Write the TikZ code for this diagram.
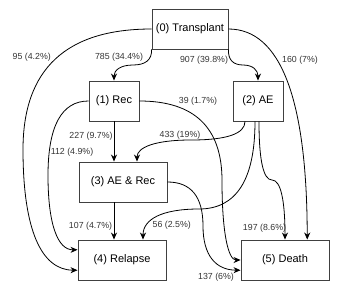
\documentclass[tikz,border=0pt]{standalone}
\usepackage{fontspec}
\setmainfont{Liberation Sans}
\usetikzlibrary{arrows.meta,calc}
\begin{document}
\begin{tikzpicture}[x=1pt,y=-1pt,
  box/.style={draw=black!75, fill=white, line width=0.9pt, minimum width=#1,
    minimum height=40pt, inner sep=0pt, font=\fontsize{11}{13}\selectfont},
  box/.default=88pt,
  flow/.style={draw=black, line width=0.8pt,
    -{Stealth[length=7pt,width=6pt,inset=2.2pt]}},
  lab/.style={font=\fontsize{8.8}{10}\selectfont, text=black!80, inner sep=0pt}]
\useasboundingbox (0,0) rectangle (359,303);
% nodes
\node[box=76pt] (n0) at (190,29) {(0) Transplant};
\node[box=50pt] (n1) at (114,101) {(1) Rec};
\node[box=50pt] (n2) at (258,101) {(2) AE};
\node[box=88pt] (n3) at (123,182) {(3) AE \& Rec};
\node[box=88pt] (n4) at (122,260) {(4) Relapse};
\node[box=88pt] (n5) at (285,260) {(5) Death};
% connectors
\draw[flow] (n0.south west) .. controls (152,59.67) and (145.67,65) .. (133,65)
  .. controls (120.33,65) and (114,70.33) .. (n1.north);
\draw[flow] (n0.south east) .. controls (228,59.67) and (233,65) .. (243,65)
  .. controls (253,65) and (258,70.33) .. (n2.north);
\draw[flow] (n0.west) .. controls (66,29) and (23,69.17) .. (23,149.5)
  .. controls (23,229.83) and (41.33,270) .. ($(n4.west)!0.5!(n4.south west)$);
\draw[flow] (n0.east) .. controls (280.67,29) and (307,99.33) .. ($(n5.north)!0.5!(n5.north east)$);
\draw[flow] (n1.west) .. controls (61.67,101) and (48,125.83) .. (48,175.5)
  .. controls (48,225.17) and (58,250) .. ($(n4.west)!0.5!(n4.north west)$);
\draw[flow] (n1.east) .. controls (194.33,101) and (222,127.5) .. (222,180.5)
  .. controls (222,233.5) and (228.33,260) .. (n5.west);
\draw[flow] (n1.south) -- (n1.south |- n3.north);
\draw[flow] ($(n2.south)+(-13,0)$) .. controls (245,133.67) and (227,140) .. (191,140)
  .. controls (155,140) and (137,147.33) .. ($(n3.north)+(14,0)$);
\draw[flow] ($(n2.south)+(-3,0)$) .. controls (255,179.67) and (236.33,209) .. (199,209)
  .. controls (161.67,209) and (143,219.33) .. ($(n4.north)+(21,0)$);
\draw[flow] ($(n2.south)+(1,0)$) .. controls (259,160.33) and (263.33,180) .. (272,180)
  .. controls (280.67,180) and (285,200) .. (n5.north);
\draw[flow] (n3.east) .. controls (191,182) and (203,196.67) .. (203,226)
  .. controls (203,255.33) and (215.67,270) .. ($(n5.west)!0.5!(n5.south west)$);
\draw[flow] (n1.south |- n3.south) -- (n1.south |- n4.north);
% labels
\node[lab] (l04) at (31.7,57) {95 (4.2\%)};
\node[lab] (l01) at (119,57) {785 (34.4\%)};
\node[lab] (l02) at (204,60) {907 (39.8\%)};
\node[lab] (l05) at (300,60.5) {160 (7\%)};
\node[lab] (l15) at (198,101.5) {39 (1.7\%)};
\node[lab] (l13) at (91,136) {227 (9.7\%)};
\node[lab] (l23) at (180,135) {433 (19\%)};
\node[lab] (l14) at (72,152) {112 (4.9\%)};
\node[lab] (l34) at (90.5,226) {107 (4.7\%)};
\node[lab] (l24) at (171.7,225.5) {56 (2.5\%)};
\node[lab] (l25) at (264.5,228) {197 (8.6\%)};
\node[lab] (l35) at (216,277) {137 (6\%)};
\end{tikzpicture}
\end{document}
